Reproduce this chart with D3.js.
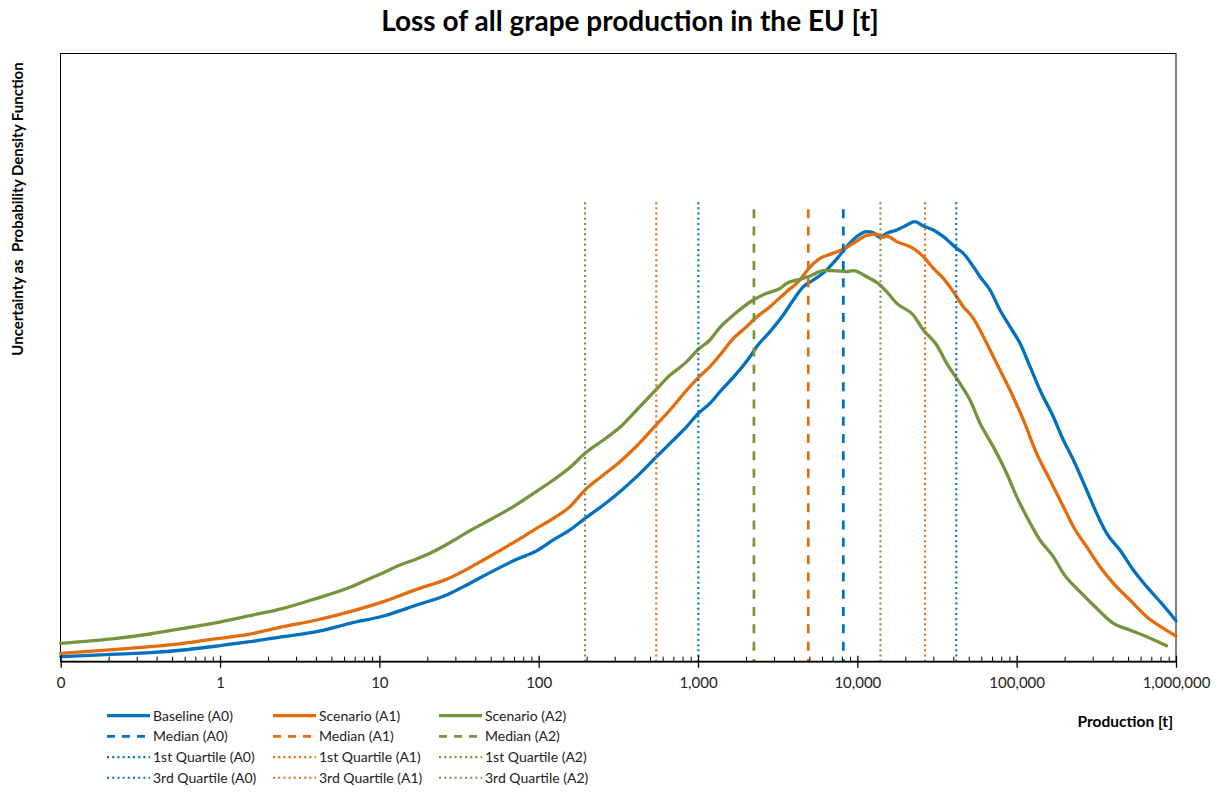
<!DOCTYPE html>
<html>
<head>
<meta charset="utf-8">
<script src="https://cdn.jsdelivr.net/npm/d3@7"></script>
<style>
  html, body { margin: 0; padding: 0; background: #fff; }
  svg { display: block; font-family: Lato, "Open Sans", sans-serif; }
</style>
</head>
<body>
<script>
// ---------- DATA (x values are log10 of production in t; the "0" label sits at -1) ----------
const tickValues = [-1, 0, 1, 2, 3, 4, 5, 6];
const tickLabels = ["0", "1", "10", "100", "1,000", "10,000", "100,000", "1,000,000"];

const seriesNames = ["Baseline (A0)", "Scenario (A1)", "Scenario (A2)"];
const seriesKeys = ["A0", "A1", "A2"];
const seriesColors = ["#0070C0", "#E46C0A", "#77933C"];

// Probability density (arbitrary units, 0-100 = plot height)
const logProdA0 = [-1.000,-0.649,-0.440,-0.230,-0.021,0.188,0.397,0.607,0.816,1.025,1.234,1.422,1.548,1.653,1.862,
  1.987,2.092,2.196,2.291,2.406,2.510,2.615,2.740,2.824,2.929,3.002,3.075,3.138,3.243,3.326,3.368,3.452,3.535,3.598,
  3.661,3.724,3.807,3.891,3.943,3.996,4.059,4.100,4.142,4.184,4.247,4.310,4.362,4.414,4.477,4.540,4.623,4.665,4.728,
  4.770,4.833,4.895,4.958,5.021,5.084,5.146,5.230,5.293,5.356,5.439,5.502,5.565,5.648,5.732,5.816,5.900,5.962,6.000];
const densityA0 = [0.83,1.26,1.48,1.92,2.58,3.29,4.11,4.93,6.30,7.51,9.31,10.96,12.60,14.08,16.82,
  18.2,20.0,21.64,23.55,25.74,27.93,30.40,33.68,35.87,38.61,40.80,42.45,44.36,47.37,50.11,51.75,54.22,56.96,59.42,
  61.61,62.71,64.35,66.81,68.46,69.83,70.65,70.48,69.72,70.37,70.92,71.74,72.29,71.58,70.92,69.83,67.91,67.09,64.90,
  63.25,61.06,57.78,55.04,52.30,48.47,44.64,40.25,36.42,33.14,28.21,24.37,21.09,18.35,15.06,12.33,9.86,7.95,6.74];

const logProdA1 = [-1.000,-0.649,-0.440,-0.230,-0.021,0.188,0.397,0.607,0.816,1.025,1.234,1.422,1.548,1.653,1.841,
  1.987,2.092,2.196,2.291,2.406,2.510,2.615,2.740,2.824,2.908,3.002,3.075,3.138,3.222,3.305,3.347,3.452,3.556,3.640,
  3.692,3.766,3.828,3.912,3.975,4.059,4.121,4.163,4.184,4.247,4.351,4.414,4.477,4.540,4.602,4.665,4.728,4.791,4.874,
  4.958,5.042,5.125,5.209,5.293,5.356,5.439,5.523,5.607,5.711,5.816,5.920,6.000];
const densityA1 = [1.37,2.03,2.47,3.02,3.78,4.55,5.75,6.85,8.22,9.86,11.89,13.53,15.17,16.71,19.56,
  21.91,23.55,25.47,28.21,30.67,32.86,35.44,39.00,41.35,43.98,46.66,48.47,50.39,53.12,55.04,56.14,58.33,60.79,62.71,
  64.51,66.27,66.92,67.75,68.73,70.05,70.26,69.72,69.94,69.01,67.91,66.54,64.62,62.98,60.79,58.33,56.41,53.40,49.02,
  44.64,39.71,34.23,29.85,25.47,22.18,18.90,15.61,12.87,10.14,7.40,5.48,4.22];

const logProdA2 = [-1.000,-0.649,-0.440,-0.230,-0.021,0.188,0.397,0.607,0.816,0.920,1.025,1.130,1.234,1.318,1.443,
  1.569,1.653,1.841,1.987,2.092,2.196,2.291,2.406,2.510,2.615,2.740,2.803,2.929,3.002,3.075,3.138,3.222,3.347,3.431,
  3.515,3.556,3.640,3.703,3.787,3.849,3.933,3.975,4.059,4.142,4.184,4.247,4.351,4.414,4.498,4.561,4.644,4.707,4.770,
  4.853,4.937,5.000,5.063,5.146,5.230,5.293,5.397,5.502,5.607,5.711,5.816,5.941];
const densityA2 = [3.02,3.84,4.55,5.48,6.41,7.56,8.77,10.41,12.22,13.42,14.63,15.89,16.87,17.80,19.56,
  21.53,22.73,25.47,28.0,29.85,31.9,34.23,36.42,38.50,41.35,44.80,46.55,49.29,51.32,52.85,54.93,56.96,59.42,60.52,
  61.34,62.16,62.82,63.37,64.24,64.24,64.08,64.24,63.25,61.89,60.79,58.87,56.96,54.49,52.03,49.02,45.73,42.99,39.16,
  35.33,30.95,27.11,23.83,19.99,17.26,14.52,11.50,8.77,6.30,5.21,4.11,2.63];

// Quartiles and medians (log10 of production in t)
const medianLog = [3.912, 3.692, 3.351];
const q1Log = [3.002, 2.738, 2.291];
const q3Log = [4.621, 4.425, 4.145];
const markerTop = 75.5; // height of the marker lines, density units

const titleText = "Loss of all grape production in the EU [t]";
const yTitleText = "Uncertainty as  Probability Density Function";
const xTitleText = "Production [t]";

// ---------- CHART ----------
const W = 1220, H = 792;
const P = { left: 60.7, right: 1176, top: 53, bottom: 661.7 };

const svg = d3.select("body").append("svg").attr("width", W).attr("height", H);

const x = d3.scaleLinear().domain([-1, 6]).range([P.left, P.right]);
const y = d3.scaleLinear().domain([0, 100]).range([P.bottom, P.top]);

// plot frame
svg.append("rect")
  .attr("x", 60.5).attr("y", 53.5)
  .attr("width", 1176 - 60.5).attr("height", P.bottom - 53.5)
  .attr("fill", "none").attr("stroke", "#000").attr("stroke-width", 1);

// series curves
const seriesX = [logProdA0, logProdA1, logProdA2];
const seriesY = [densityA0, densityA1, densityA2];
const line = d3.line().x(d => x(d[0])).y(d => y(d[1])).curve(d3.curveMonotoneX);

const curves = svg.append("g");
seriesKeys.forEach((k, i) => {
  const pts = seriesX[i].map((v, j) => [v, seriesY[i][j]]);
  curves.append("path")
    .datum(pts)
    .attr("d", line)
    .attr("fill", "none")
    .attr("stroke", seriesColors[i])
    .attr("stroke-width", 3.3)
    .attr("stroke-linejoin", "round")
    .attr("stroke-linecap", "round");
});

// vertical marker lines
const dashStyle = { width: 2.7, dash: "9,8.3", offset: 10.3 };
const dotStyle = { width: 2.1, dash: "2,3.2", offset: 0 };
const markers = [];
seriesKeys.forEach((k, i) => {
  markers.push({ v: medianLog[i], c: seriesColors[i], s: dashStyle });
});
seriesKeys.forEach((k, i) => {
  markers.push({ v: q1Log[i], c: seriesColors[i], s: dotStyle });
  markers.push({ v: q3Log[i], c: seriesColors[i], s: dotStyle });
});
svg.append("g").selectAll("line").data(markers).join("line")
  .attr("x1", d => x(d.v)).attr("x2", d => x(d.v))
  .attr("y1", y(markerTop)).attr("y2", y(0))
  .attr("stroke", d => d.c)
  .attr("stroke-width", d => d.s.width)
  .attr("stroke-dasharray", d => d.s.dash)
  .attr("stroke-dashoffset", d => d.s.offset);

// x axis: minor ticks (inside)
const minorTicks = [];
for (let n = -1; n < 6; n++) for (let k = 2; k <= 9; k++) minorTicks.push(n + Math.log10(k));

const minorAxis = svg.append("g").attr("transform", `translate(0,${P.bottom})`)
  .call(d3.axisBottom(x).tickValues(minorTicks).tickSize(-5).tickFormat(""));
minorAxis.select(".domain").remove();
minorAxis.selectAll("line").attr("stroke", "#000").attr("stroke-width", 1);

const majorAxis = svg.append("g").attr("transform", `translate(0,${P.bottom})`)
  .call(d3.axisBottom(x).tickValues(tickValues).tickSize(6).tickFormat((d, i) => tickLabels[i]));
majorAxis.select(".domain").attr("stroke", "#000").attr("stroke-width", 1.8).attr("d", `M${P.left},0H${P.right}`);
majorAxis.selectAll(".tick line").attr("y1", -6).attr("y2", 6).attr("stroke", "#000").attr("stroke-width", 1.3);
majorAxis.selectAll(".tick text")
  .attr("y", 26).attr("dy", null)
  .attr("fill", "#222")
  .style("font-family", "Lato, sans-serif")
  .style("font-size", "15px");

// title
svg.append("text")
  .attr("x", 630).attr("y", 31)
  .attr("text-anchor", "middle")
  .style("font-weight", "bold")
  .style("font-size", "28px")
  .attr("fill", "#000")
  .text(titleText);

// y-axis title
svg.append("text")
  .attr("transform", "translate(22.5,209) rotate(-90)")
  .attr("text-anchor", "middle")
  .style("font-weight", "bold")
  .style("font-size", "15px")
  .style("white-space", "pre")
  .attr("xml:space", "preserve")
  .attr("fill", "#000")
  .text(yTitleText);

// x-axis title
svg.append("text")
  .attr("x", 1173).attr("y", 726.5)
  .attr("text-anchor", "end")
  .style("font-weight", "bold")
  .style("font-size", "15.5px")
  .attr("fill", "#000")
  .text(xTitleText);

// legend
const legendRows = [
  { label: k => k === "A0" ? "Baseline (A0)" : `Scenario (${k})`, style: { width: 3.3, dash: null } },
  { label: k => `Median (${k})`, style: { width: 2.7, dash: "8,7" } },
  { label: k => `1st Quartile (${k})`, style: { width: 2.1, dash: "2,3.2" } },
  { label: k => `3rd Quartile (${k})`, style: { width: 2.1, dash: "2,3.2" } }
];
const colX = [107, 273, 439];
const rowY = [715.7, 736.4, 757.1, 777.8];
const legend = svg.append("g");
legendRows.forEach((r, ri) => {
  seriesKeys.forEach((k, ci) => {
    const g = legend.append("g").attr("transform", `translate(${colX[ci]},${rowY[ri]})`);
    g.append("line")
      .attr("x1", 0).attr("x2", 43).attr("y1", 0).attr("y2", 0)
      .attr("stroke", seriesColors[ci])
      .attr("stroke-width", r.style.width)
      .attr("stroke-dasharray", r.style.dash);
    g.append("text")
      .attr("x", 46).attr("y", 5)
      .style("font-size", "14px")
      .attr("fill", "#222")
      .text(r.label(k));
  });
});
</script>
</body>
</html>
